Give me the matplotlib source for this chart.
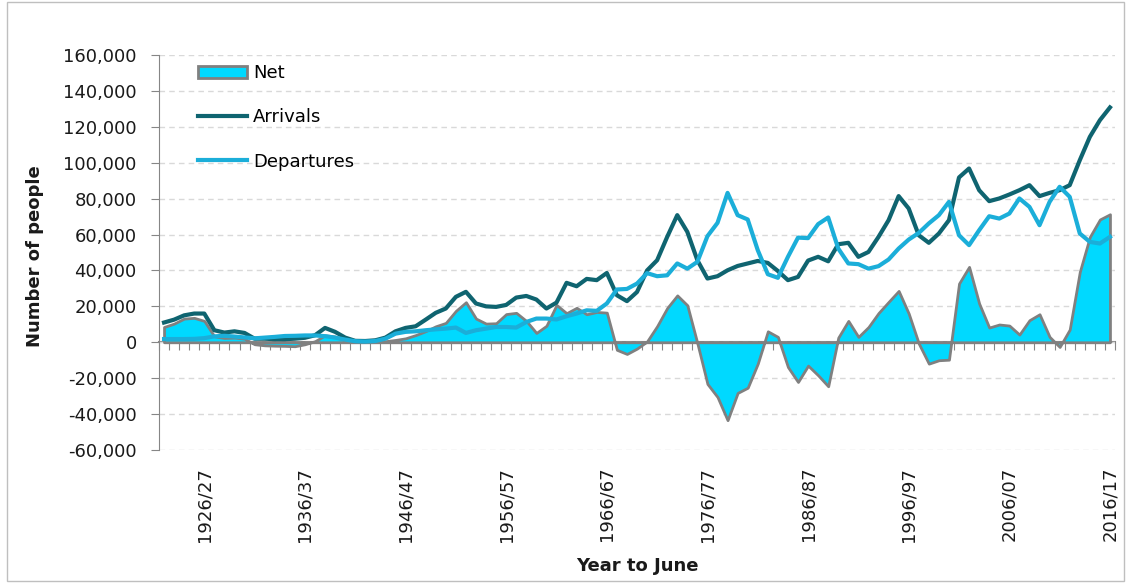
import numpy as np
import matplotlib
matplotlib.use("Agg")
from matplotlib import pyplot as plt
from matplotlib.patches import Rectangle
from matplotlib.ticker import FuncFormatter

# years to June, 1922/23 .. 2016/17
first_year = 1922
last_year = 2016
years = [f"{y}/{(y + 1) % 100:02d}" for y in range(first_year, last_year + 1)]

# values in thousands of people
arrivals = [11.0, 12.6, 15.0, 16.0, 16.0, 6.7, 5.4, 6.1, 5.2, 2.0,
            2.0, 1.7, 1.7, 2.0, 2.5, 3.9, 8.0, 5.8, 2.6, 0.8,
            0.7, 1.1, 2.6, 6.1, 8.0, 8.9, 12.6, 16.4, 18.8, 25.3,
            28.1, 21.6, 20.0, 19.7, 20.8, 24.9, 25.8, 23.8, 18.8, 22.1,
            33.1, 31.2, 35.3, 34.6, 38.6, 26.2, 22.9, 28.0, 40.0, 45.7,
            58.7, 70.8, 61.5, 45.7, 35.5, 36.8, 40.1, 42.5, 43.9, 45.3,
            44.2, 39.7, 34.6, 36.4, 45.5, 47.6, 45.1, 54.6, 55.4, 47.6,
            50.3, 58.7, 68.0, 81.4, 74.5, 59.6, 55.4, 60.6, 68.0, 91.8,
            96.8, 84.7, 78.6, 80.1, 82.3, 84.7, 87.5, 81.4, 83.2, 84.7,
            87.5, 101.4, 114.4, 123.7, 130.8]

departures = [1.8, 1.8, 1.8, 1.9, 2.3, 3.3, 3.6, 3.2, 2.7, 2.2,
              2.6, 3.0, 3.5, 3.6, 3.8, 3.8, 3.4, 2.6, 1.5, 0.6,
              0.4, 0.7, 2.0, 4.8, 5.8, 6.1, 6.7, 7.2, 7.6, 8.2,
              5.2, 6.7, 7.6, 8.5, 8.5, 8.2, 11.3, 13.2, 13.2, 12.7,
              14.5, 16.0, 17.8, 17.5, 21.6, 29.4, 29.7, 32.7, 38.5, 36.8,
              37.3, 43.9, 41.0, 44.8, 59.1, 66.5, 83.2, 70.8, 68.4, 51.3,
              37.9, 35.9, 47.6, 58.3, 58.0, 65.8, 69.5, 52.2, 43.9, 43.5,
              41.0, 42.4, 46.1, 52.2, 57.2, 60.9, 66.2, 70.8, 78.2, 59.6,
              54.1, 62.4, 70.2, 68.9, 71.7, 80.1, 75.4, 65.2, 78.2, 86.6,
              81.0, 60.6, 55.9, 55.0, 58.7]

net = [8.5, 10.4, 13.2, 13.6, 11.9, 3.3, 2.4, 2.6, 2.0, -1.1,
       -1.7, -1.9, -2.0, -2.2, -1.1, 0.6, 3.9, 3.2, 1.1, 0.2,
       0.3, 0.4, 0.6, 1.3, 2.2, 4.0, 6.2, 8.9, 10.8, 17.5,
       22.3, 13.2, 10.4, 10.6, 15.7, 16.4, 11.9, 5.2, 9.2, 20.8,
       16.2, 19.2, 15.6, 16.9, 16.5, -4.2, -6.5, -3.5, 0.5, 9.0,
       19.1, 26.1, 20.6, -0.6, -23.2, -30.5, -43.4, -28.2, -25.3, -11.9,
       6.1, 3.0, -13.8, -22.1, -13.0, -18.4, -24.5, 2.6, 11.9, 3.0,
       8.5, 16.3, 22.5, 28.6, 16.0, -0.7, -11.9, -10.0, -9.7, 32.7,
       42.0, 21.6, 8.2, 9.9, 9.3, 4.3, 12.3, 15.6, 3.0, -2.6,
       7.1, 39.2, 58.7, 68.4, 71.3]

x = np.arange(len(years))
arr = np.array(arrivals) * 1000
dep = np.array(departures) * 1000
nt = np.array(net) * 1000

grey = "#868686"
txt = "#1a1a1a"

fig = plt.figure(figsize=(11.31, 5.83), dpi=100)
ax = fig.add_axes([159 / 1131, 1 - 450 / 583, 956 / 1131, 395 / 583])

ax.fill_between(x, nt, 0, facecolor="#00D9FF", edgecolor="#808080",
                linewidth=2, label="Net", zorder=2)
ax.plot(x, arr, color="#0F6470", lw=3, label="Arrivals", zorder=3)
ax.plot(x, dep, color="#1BAED9", lw=3, label="Departures", zorder=4)

ax.set_xlim(-0.5, len(years) - 0.5)
ax.set_ylim(-60000, 160000)
ax.set_yticks(np.arange(-60000, 160001, 20000))
ax.yaxis.set_major_formatter(FuncFormatter(lambda v, p: f"{v:,.0f}"))
ax.yaxis.grid(True, color="#D9D9D9", ls=(0, (4, 3)), lw=1)
ax.set_axisbelow(True)

for s in ["top", "right", "bottom"]:
    ax.spines[s].set_visible(False)
ax.spines["left"].set_color(grey)
ax.tick_params(axis="y", direction="out", length=6, color=grey,
               labelsize=13, pad=10, labelcolor=txt)

# labels every 10 years along the bottom
lab_idx = x[4::10]
ax.set_xticks(lab_idx)
ax.set_xticklabels([years[i] for i in lab_idx])
ax.tick_params(axis="x", length=0, labelrotation=90, labelsize=13,
               pad=12, labelcolor=txt)

# category axis crossing at zero
sec = ax.secondary_xaxis(0, transform=ax.transData)
sec.set_xticks(np.arange(-0.5, len(years), 1))
sec.tick_params(axis="x", direction="out", length=6, color=grey,
                labelbottom=False)
sec.spines["bottom"].set_color(grey)
sec.spines["bottom"].set_linewidth(1.5)

ax.set_ylabel("Number of people", fontsize=13, fontweight="bold", color=txt)
ax.yaxis.set_label_coords(-0.12, 0.49)
ax.set_xlabel("Year to June", fontsize=13, fontweight="bold", color=txt)
ax.xaxis.set_label_coords(0.5, -0.27)

ax.legend(loc="upper left", bbox_to_anchor=(0.033, 0.995), frameon=False,
          fontsize=13, handlelength=2.7, handletextpad=0.35,
          labelspacing=1.45, borderaxespad=0)

fig.patches.append(Rectangle((0.006, 0.004), 0.988, 0.992,
                             transform=fig.transFigure, fill=False,
                             edgecolor="#BFBFBF", lw=1))

fig.savefig("out.png", dpi=100)
